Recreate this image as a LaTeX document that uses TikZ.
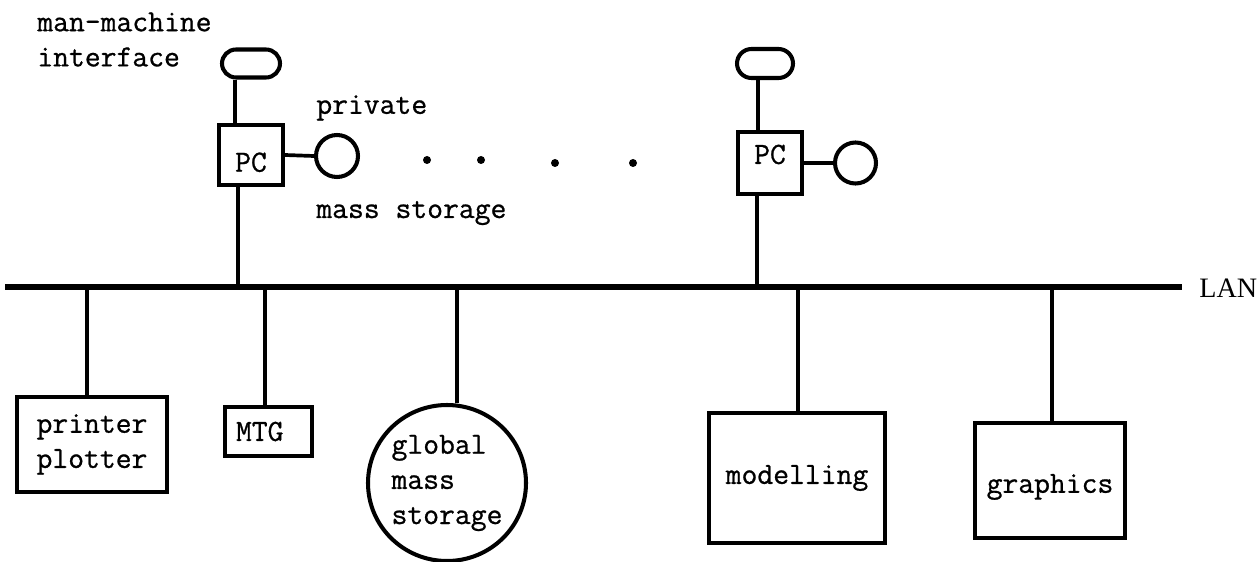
\documentclass[tikz,border=0pt]{standalone}
\usepackage{fontspec}
\setmainfont{Liberation Serif}
\setmonofont{Latin Modern Mono}[FakeBold=0.8]
\usepackage{tikz}
\usetikzlibrary{shapes.geometric,shapes.misc}

\begin{document}
\begin{tikzpicture}[
font=\ttfamily\fontsize{17.5}{20}\selectfont,
unit/.style={draw, line width=2.3pt, inner sep=0pt},
box/.style={unit, rectangle, align=center},
pill/.style={unit, rounded rectangle, minimum width=1.16cm, minimum height=0.56cm},
disk/.style={unit, circle, minimum size=0.84cm},
tap/.style={line width=2.1pt},
lbl/.style={inner sep=0pt, align=left, anchor=west}
]
    \useasboundingbox (0,0) rectangle (25.2,11.22);

    % Draw LAN
    \draw [line width=3pt] (0.1,5.48) coordinate (lanw)
        -- (23.64,5.48) coordinate (lane);
    \node[lbl, font=\rmfamily\fontsize{16}{18}\selectfont] (lan) at (23.98,5.46) {LAN};

    % first workstation
    \node[pill] (mmi1) at (5.02,9.95) {};
    \node[box, minimum width=1.28cm, minimum height=1.2cm,
          text height=19pt, text depth=0pt] (pc1) at (5.02,8.12) {PC};
    \node[disk] (pms1) at (6.74,8.10) {};
    \draw[tap] ([xshift=-0.32cm]mmi1.south) -- ([xshift=-0.32cm]pc1.north);
    \draw[tap] ([xshift=-0.26cm]pc1.south) -- ([xshift=-0.26cm]pc1.south |- lanw);
    \draw[tap] (pc1.east) -- (pms1.west);

    \node[lbl] (mmilbl) at (0.74,10.43) {man-machine\\interface};
    \node[lbl] (privlbl) at (6.32,9.06) {private};
    \node[lbl] (mslbl) at (6.32,6.96) {mass storage};

    \foreach \x/\y in {8.54/8.02, 9.62/8.02, 11.10/7.96, 12.66/7.96}
        \fill (\x,\y) circle (0.08);

    % last workstation
    \node[pill, minimum width=1.12cm, minimum height=0.58cm] (mmi2) at (15.30,9.95) {};
    \node[box, minimum width=1.28cm, minimum height=1.24cm,
          text height=10pt, text depth=9pt] (pc2) at (15.40,7.96) {PC};
    \node[disk, minimum size=0.82cm] (pms2) at (17.11,7.96) {};
    \draw[tap] ([xshift=-0.14cm]mmi2.south) -- ([xshift=-0.24cm]pc2.north);
    \draw[tap] ([xshift=-0.26cm]pc2.south) -- ([xshift=-0.26cm]pc2.south |- lanw);
    \draw[tap] (pc2.east) -- (pms2.west);

    % shared units on the LAN
    \node[box, minimum width=3.0cm, minimum height=1.9cm] (prn) at (1.84,2.33) {printer\\plotter};
    \node[box, text width=1.30cm, inner xsep=0.22cm, align=left,
          minimum height=0.98cm] (mtg) at (5.37,2.59) {MTG};
    \node[unit, ellipse, minimum width=3.16cm, minimum height=3.12cm,
          align=left] (gms) at (8.94,1.56) {global\\mass\\storage};
    \node[box, minimum width=3.52cm, minimum height=2.6cm] (mod) at (15.94,1.66) {modelling};
    \node[box, minimum width=3.0cm, minimum height=2.3cm,
          text height=14pt, text depth=0pt] (gfx) at (21.00,1.61) {graphics};

    \foreach \n/\dx in {prn/-0.10, mtg/-0.07, gms/0.20, mod/0.02, gfx/0.04}
        \draw[tap] ([xshift=\dx cm]\n.north) -- ([xshift=\dx cm]\n.north |- lanw);

\end{tikzpicture}
\end{document}
